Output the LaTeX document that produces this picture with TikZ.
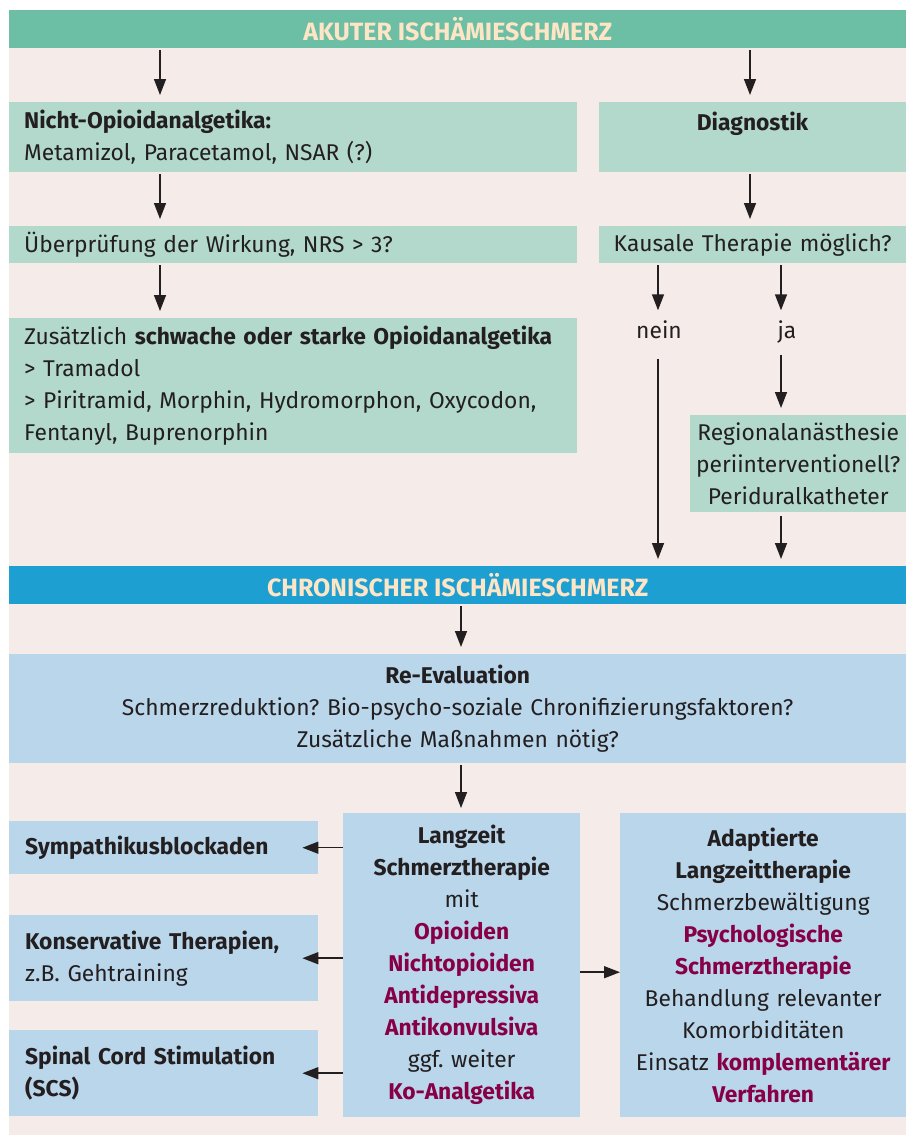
\documentclass[tikz,border=0pt]{standalone}
\usepackage{fontspec}
\setmainfont{Fira Sans}
\frenchspacing
\usetikzlibrary{arrows.meta,positioning}
\definecolor{ink}{HTML}{231F20}
\definecolor{paper}{HTML}{F5ECEA}
\definecolor{acute}{HTML}{6CBFA5}
\definecolor{acutesoft}{HTML}{B2D9CC}
\definecolor{chronic}{HTML}{1E9FD2}
\definecolor{chronicsoft}{HTML}{BAD6EB}
\definecolor{cream}{HTML}{FDE5C6}
\definecolor{drug}{HTML}{870046}
\tikzset{
  box/.style={anchor=north west, inner xsep=15pt, inner ysep=0pt, text=ink, font=\fontsize{22.8}{32}\selectfont},
  gbox/.style={box, fill=acutesoft},
  bbox/.style={box, fill=chronicsoft},
  head/.style={anchor=north west, inner sep=0pt, minimum width=897pt, minimum height=38pt, text=cream, font=\fontsize{25}{28}\selectfont\bfseries},
  tag/.style={inner sep=5pt, text height=16pt, text depth=5pt, text=ink, font=\fontsize{22.8}{32}\selectfont},
  flow/.style={-{Triangle[length=16pt,width=12pt]}, line width=1.5pt, ink, shorten <=2pt, shorten >=7pt},
  side/.style={flow, shorten <=0pt, shorten >=0pt},
}
\newcommand{\drug}[1]{\textcolor{drug}{\textbf{#1}}}

\begin{document}
\begin{tikzpicture}[x=1pt, y=-1pt]
  \useasboundingbox (0,0) rectangle (906,1135);
  \fill[paper] (9,10) rectangle (906,1135);

  \node[head, fill=acute] (akut) at (9,10) {AKUTER ISCHÄMIESCHMERZ};
  \node[gbox, minimum width=568pt, minimum height=70pt, text width=538pt, align=left] (nopioid) at (9,102)
    {\textbf{Nicht-Opioidanalgetika:}\\Metamizol, Paracetamol, NSAR (?)};
  \node[gbox, minimum width=307pt, minimum height=70pt, text width=277pt, align=center] (diag) at (599,102)
    {\textbf{Diagnostik}\\~};
  \node[gbox, minimum width=568pt, minimum height=37pt, text width=538pt, align=left] (pruef) at (9,226)
    {Überprüfung der Wirkung, NRS > 3?};
  \node[gbox, minimum width=307pt, minimum height=37pt, text width=297pt, inner xsep=5pt, align=center] (kausal) at (599,226)
    {Kausale Therapie möglich?};
  \node[gbox, minimum width=568pt, minimum height=135pt, text width=550pt, inner xsep=9pt, align=left] (opioid) at (9,318)
    {\hspace{6pt}Zusätzlich \textbf{schwache oder starke Opioidanalgetika}\\
     \hspace{6pt}> Tramadol\\
     \hspace{6pt}> Piritramid, Morphin, Hydromorphon, Oxycodon,\\
     \hspace{6pt}Fentanyl, Buprenorphin};
  \node[tag] (nein) at (659,333) {nein};
  \node[tag] (ja) at (787,333) {ja};
  \node[gbox, minimum width=216pt, minimum height=97pt, text width=214pt, inner xsep=1pt, align=center] (regio) at (690,415)
    {Regionalanästhesie\\periinterventionell?\\Periduralkatheter};

  \node[head, fill=chronic] (chron) at (9,566) {CHRONISCHER ISCHÄMIESCHMERZ};
  \node[bbox, minimum width=897pt, minimum height=109pt, text width=867pt, align=center] (reeval) at (9,654)
    {\textbf{Re-Evaluation}\\
     Schmerzreduktion? Bio-psycho-soziale Chronifizierungsfaktoren?\\
     Zusätzliche Maßnahmen nötig?};
  \node[bbox, minimum width=237pt, minimum height=304pt, text width=227pt, inner xsep=5pt, align=center] (lang) at (343,813)
    {\textbf{Langzeit}\\\textbf{Schmerztherapie}\\mit\\\drug{Opioiden}\\\drug{Nichtopioiden}\\
     \drug{Antidepressiva}\\\drug{Antikonvulsiva}\\ggf. weiter\\\drug{Ko-Analgetika}\\[-10pt]};
  \node[bbox, minimum width=286pt, minimum height=304pt, text width=280pt, inner xsep=3pt, align=center] (adapt) at (620,813)
    {\textbf{Adaptierte}\\\textbf{Langzeittherapie}\\Schmerzbewältigung\\\drug{Psychologische}\\
     \drug{Schmerztherapie}\\Behandlung relevanter\\Komorbiditäten\\Einsatz \drug{komplementärer}\\\drug{Verfahren}\\[-10pt]};
  \node[bbox, minimum width=309pt, minimum height=53pt, text width=289pt, inner xsep=10pt, align=left] (symp) at (9,821)
    {\hspace{6pt}\textbf{Sympathikusblockaden}};
  \node[bbox, minimum width=309pt, minimum height=86pt, text width=289pt, inner xsep=10pt, align=left] (konserv) at (9,915)
    {\hspace{6pt}\textbf{Konservative Therapien,}\\\hspace{6pt}z.B. Gehtraining};
  \node[bbox, minimum width=309pt, minimum height=86pt, text width=289pt, inner xsep=10pt, align=left] (scs) at (9,1030)
    {\hspace{6pt}\textbf{Spinal Cord Stimulation}\\\hspace{6pt}\textbf{(SCS)}};

  \coordinate (xl) at (160,0);
  \coordinate (xr) at (750,0);
  \coordinate (xn) at (658,0);
  \coordinate (xj) at (781,0);
  \coordinate (xm) at (461,0);

  \draw[flow] (akut.south -| xl) -- (nopioid.north -| xl);
  \draw[flow] (akut.south -| xr) -- (diag.north -| xr);
  \draw[flow] (nopioid.south -| xl) -- (pruef.north -| xl);
  \draw[flow] (diag.south -| xr) -- (kausal.north -| xr);
  \draw[flow] (pruef.south -| xl) -- (opioid.north -| xl);
  \draw[flow] (kausal.south -| xn) -- (nein.north -| xn);
  \draw[flow] (kausal.south -| xj) -- (ja.north -| xj);
  \draw[flow, shorten <=10pt] (nein.south -| xn) -- (chron.north -| xn);
  \draw[flow, shorten <=6pt] (ja.south -| xj) -- (regio.north -| xj);
  \draw[flow, shorten <=4pt] (regio.south -| xj) -- (chron.north -| xj);
  \draw[flow] (chron.south -| xm) -- (reeval.north -| xm);
  \draw[flow, shorten >=5pt] (reeval.south -| xm) -- (lang.north -| xm);
  \draw[side] (lang.west |- symp) -- ([xshift=-16pt]symp.east);
  \draw[side] (lang.west |- konserv) -- ([xshift=-16pt]konserv.east);
  \draw[side] (lang.west |- scs) -- ([xshift=-16pt]scs.east);
  \draw[side] ([yshift=-7pt]lang.east) -- ([yshift=-7pt]lang.east -| adapt.west);
\end{tikzpicture}
\end{document}
